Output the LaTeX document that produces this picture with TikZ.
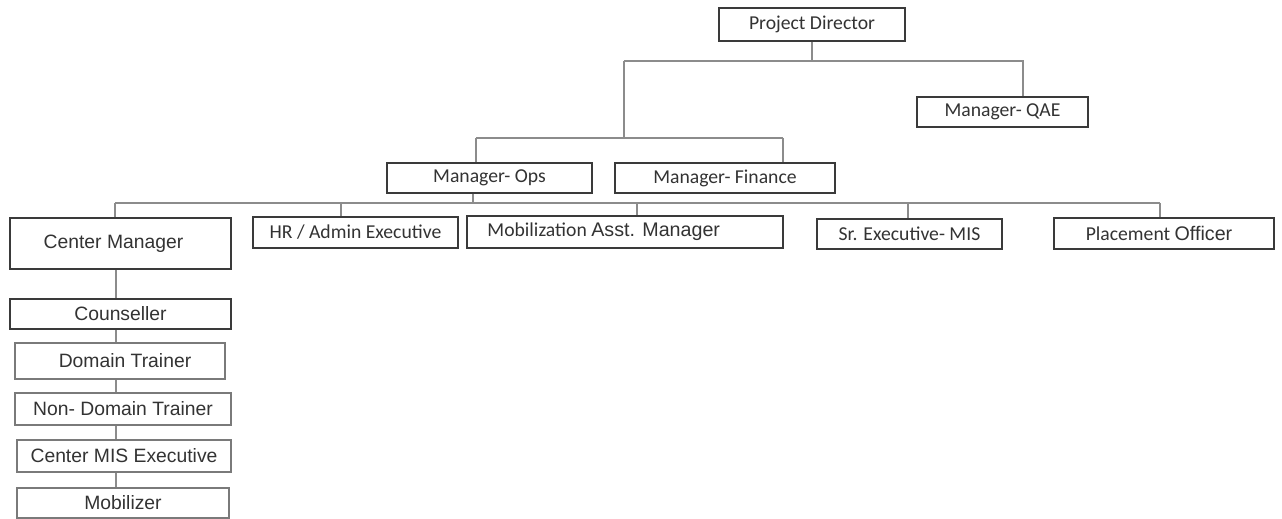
\documentclass[tikz,border=0pt]{standalone}
\usepackage{fontspec}
\setmainfont{Carlito}
\newfontfamily\arialf{Liberation Sans}
\definecolor{boxc}{HTML}{3A3A3A}
\definecolor{lightbox}{HTML}{7A7A7A}
\definecolor{linec}{HTML}{8C8C8C}
\definecolor{txt}{HTML}{333333}
\begin{document}
\begin{tikzpicture}[x=0.02cm,y=-0.02cm,
  box/.style={draw=boxc, line width=0.9pt, fill=white, inner sep=0pt, text=txt,
    font=\fontsize{11.2}{13}\selectfont},
  lbox/.style={box, draw=lightbox, line width=0.6pt},
  ar/.style={font=\arialf\fontsize{11}{13}\selectfont},
  conn/.style={draw=linec, line width=0.75pt}]
\useasboundingbox (0,0) rectangle (1282,519);
% nodes
\node[box, minimum width=3.72cm, minimum height=0.66cm] (pd) at (812,24.5) {Project Director};
\node[box, minimum width=3.42cm, minimum height=0.60cm] (qae) at (1002.5,112) {Manager- QAE};
\node[box, minimum width=4.10cm, minimum height=0.60cm] (ops) at (489.5,178) {Manager- Ops};
\node[box, minimum width=4.40cm, minimum height=0.60cm] (fin) at (725,178) {Manager- Finance};
\node[box, ar, minimum width=4.42cm, minimum height=1.02cm] (cm) at (120.5,243.5) {Center Manager\hspace*{0.28cm}};
\node[box, minimum width=4.10cm, minimum height=0.62cm] (hr) at (355.5,232.5) {HR / Admin Executive};
\node[box, minimum width=6.32cm, minimum height=0.64cm] (mob) at (625,232) {Mobilization {\arialf Asst. Manager}\hspace*{0.85cm}};
\node[box, minimum width=3.70cm, minimum height=0.60cm] (sr) at (909.5,234) {\raisebox{-1.5pt}{Sr. Executive- MIS}};
\node[box, minimum width=4.40cm, minimum height=0.62cm] (po) at (1164,233.5) {Placement {\arialf Officer}\hspace*{0.2cm}};
\node[box, ar, minimum width=4.42cm, minimum height=0.60cm] (cou) at (120.5,314) {Counseller};
\node[lbox, ar, minimum width=4.20cm, minimum height=0.72cm] (dt) at (120,361) {\hspace*{0.2cm}Domain Trainer};
\node[lbox, ar, minimum width=4.32cm, minimum height=0.64cm] (ndt) at (123,409) {Non- Domain Trainer};
\node[lbox, ar, minimum width=4.28cm, minimum height=0.64cm] (cmis) at (124,456) {Center MIS Executive};
\node[lbox, ar, minimum width=4.24cm, minimum height=0.60cm] (mobz) at (123,503) {Mobilizer};
% junctions
\coordinate (a1) at (624,61);
\coordinate (a2) at (1023,61);
\coordinate (a3) at (624,138);
\coordinate (b1) at (476,138);
\coordinate (b2) at (783,138);
\coordinate (c0) at (473,203);
\coordinate (cL) at (115,203);
\coordinate (cR) at (1160,203);
\coordinate (dHR) at (341,203);
\coordinate (dMB) at (637,203);
\coordinate (dSR) at (908,203);
\coordinate (v) at (116,0);
% connectors
\draw[conn] (pd.south) -- (pd.south |- a1);
\draw[conn] (a1) -- (a2) -- (qae.north -| a2);
\draw[conn] (a1) -- (a3);
\draw[conn] (b1) -- (b2);
\draw[conn] (b1) -- (ops.north -| b1);
\draw[conn] (b2) -- (fin.north -| b2);
\draw[conn] (ops.south -| c0) -- (c0);
\draw[conn] (cL) -- (cR);
\draw[conn] (cL) -- (cm.north -| cL);
\draw[conn] (dHR) -- (hr.north -| dHR);
\draw[conn] (dMB) -- (mob.north -| dMB);
\draw[conn] (dSR) -- (sr.north -| dSR);
\draw[conn] (cR) -- (po.north -| cR);
\draw[conn] (cm.south -| v) -- (cou.north -| v);
\draw[conn] (cou.south -| v) -- (dt.north -| v);
\draw[conn] (dt.south -| v) -- (ndt.north -| v);
\draw[conn] (ndt.south -| v) -- (cmis.north -| v);
\draw[conn] (cmis.south -| v) -- (mobz.north -| v);
\end{tikzpicture}
\end{document}
